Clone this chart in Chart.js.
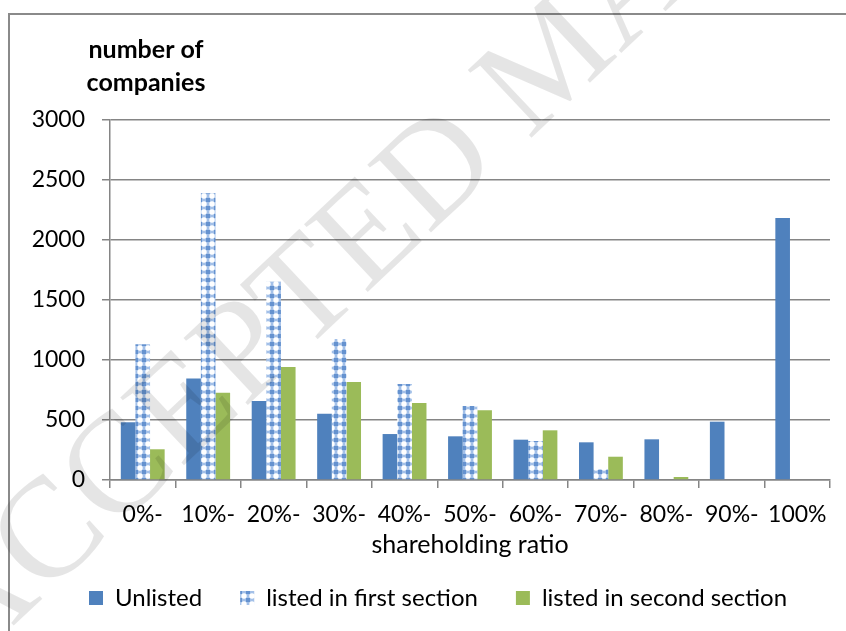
<!DOCTYPE html>
<html>
<head>
<meta charset="utf-8">
<script src="https://cdn.jsdelivr.net/npm/chart.js@4.4.0/dist/chart.umd.min.js"></script>
<style>
  html, body { margin: 0; padding: 0; background: #fff; overflow: hidden; }
  .frame { position: absolute; left: 8px; top: 13px; width: 1000px; height: 1000px;
           border-left: 2px solid #8a8a8a; border-top: 2px solid #8a8a8a; }
  .wrap { position: absolute; left: 0; top: 0; width: 866px; height: 631px; }
</style>
</head>
<body>
<div class="frame"></div>
<div class="wrap"><canvas id="holdingChart"></canvas></div>
<script>
const categories = ["0%-", "10%-", "20%-", "30%-", "40%-", "50%-", "60%-", "70%-", "80%-", "90%-", "100%"];
const unlisted = [481, 845, 658, 553, 383, 364, 336, 314, 339, 486, 2183];
const firstSection = [1131, 2389, 1653, 1175, 800, 617, 325, 89, 0, 0, 0];
const secondSection = [256, 728, 942, 817, 642, 581, 414, 194, 25, 0, 0];
const yTicks = [0, 500, 1000, 1500, 2000, 2500, 3000];

const blue = "#4f81bd";
const green = "#9bbb59";
const gridGray = "#858585";
const fontName = "Lato";

// blue lattice fill for the first section bars
function makePattern() {
    const c = document.createElement("canvas");
    c.width = 8;
    c.height = 8;
    const g = c.getContext("2d");
    g.fillStyle = "#a3c0e8";
    g.fillRect(0, 0, 8, 8);
    g.fillStyle = "#ffffff";
    g.beginPath();
    g.arc(4, 4, 2.7, 0, Math.PI * 2);
    g.fill();
    g.fillStyle = "#6592cf";
    g.fillRect(0, 0, 2, 2);
    g.fillRect(6, 0, 2, 2);
    g.fillRect(0, 6, 2, 2);
    g.fillRect(6, 6, 2, 2);
    return g.createPattern(c, "repeat");
}
const lattice = makePattern();

const yTitle = {
    id: "yTitle",
    afterDraw(chart) {
        const ctx = chart.ctx;
        ctx.save();
        ctx.fillStyle = "#000";
        ctx.font = "bold 25px " + fontName;
        ctx.textAlign = "center";
        ctx.textBaseline = "middle";
        ctx.fillText("number of", 146, 50);
        ctx.fillText("companies", 146, 83);
        ctx.restore();
    }
};

// centre the legend under the whole frame, not under the padded box
const legendShift = {
    id: "legendShift",
    afterLayout(chart) {
        chart.legend.left += 46;
    }
};

const watermark = {
    id: "watermark",
    afterDraw(chart) {
        const ctx = chart.ctx;
        ctx.save();
        ctx.translate(-57, 641);
        ctx.rotate(-43.3 * Math.PI / 180);
        ctx.fillStyle = "rgba(0, 0, 0, 0.10)";
        ctx.font = "142px 'Liberation Serif'";
        ctx.textBaseline = "middle";
        ctx.fillText("ACCEPTED MANUSCRIPT", 0, 0);
        ctx.restore();
    }
};

new Chart("holdingChart", {
    type: "bar",
    data: {
        labels: categories,
        datasets: [
            { label: "Unlisted", data: unlisted, backgroundColor: blue },
            { label: "listed in first section", data: firstSection, backgroundColor: lattice },
            { label: "listed in second section", data: secondSection, backgroundColor: green }
        ]
    },
    options: {
        responsive: true,
        maintainAspectRatio: false,
        animation: false,
        datasets: { bar: { categoryPercentage: 0.67, barPercentage: 1.0 } },
        layout: { padding: { left: 0, right: 36, top: 120, bottom: 11 } },
        plugins: {
            legend: {
                position: "bottom",
                labels: {
                    font: { family: fontName, size: 24 },
                    color: "#000",
                    boxWidth: 14,
                    boxHeight: 14,
                    padding: 38
                }
            },
            tooltip: { enabled: false }
        },
        scales: {
            x: {
                afterFit: (scale) => { scale.height = 68; },
                grid: { drawOnChartArea: false, drawTicks: true, tickLength: 8, color: gridGray, lineWidth: 1.5 },
                border: { color: gridGray, width: 1.5 },
                ticks: { font: { family: fontName, size: 23 }, color: "#000", padding: 13, maxRotation: 0 },
                title: {
                    display: true,
                    text: "shareholding ratio",
                    font: { family: fontName, size: 25 },
                    color: "#000",
                    padding: { top: 0, bottom: -12 }
                }
            },
            y: {
                min: 0,
                max: 3000,
                afterBuildTicks: (scale) => { scale.ticks = yTicks.map(v => ({ value: v })); },
                afterFit: (scale) => { scale.width = 110; },
                grid: { color: gridGray, lineWidth: 1.5, tickLength: 8 },
                border: { color: gridGray, width: 1.5 },
                ticks: {
                    font: { family: fontName, size: 23 },
                    color: "#000",
                    padding: 17,
                    callback: (value) => String(value)
                }
            }
        }
    },
    plugins: [yTitle, legendShift, watermark]
});
</script>
</body>
</html>
